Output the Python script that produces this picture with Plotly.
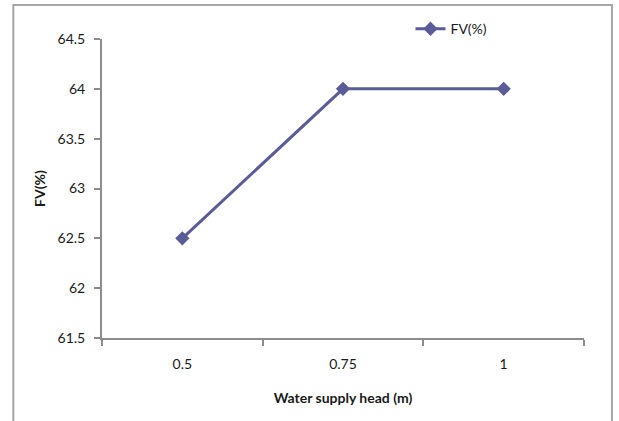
import plotly.graph_objects as go

categories = ["0.5", "0.75", "1"]
fv_values = [62.5, 64.0, 64.0]
y_ticks = [61.5, 62, 62.5, 63, 63.5, 64, 64.5]
y_tick_labels = ["61.5", "62", "62.5", "63", "63.5", "64", "64.5"]

line_color = "#5b5b98"
axis_color = "#8c8c8c"
font_family = "Lato, 'Open Sans', sans-serif"

fig = go.Figure()
fig.add_trace(go.Scatter(
    x=categories, y=fv_values, mode="lines+markers", name="FV(%)",
    line=dict(color=line_color, width=3),
    marker=dict(symbol="diamond", size=11, color=line_color),
))

fig.update_layout(
    width=619, height=421,
    margin=dict(l=102, r=35, t=39, b=83),
    paper_bgcolor="white", plot_bgcolor="white",
    font=dict(family=font_family, size=14, color="#1a1a1a"),
    showlegend=True,
    legend=dict(x=0.64, y=1.033, xanchor="left", yanchor="middle",
                bgcolor="rgba(0,0,0,0)", font=dict(size=14),
                itemwidth=30, tracegroupgap=0),
    xaxis=dict(
        type="category", range=[-0.5, 2.5], tickson="boundaries",
        showline=True, linecolor=axis_color, linewidth=2,
        ticks="outside", ticklen=6, tickcolor=axis_color, tickwidth=2,
        ticklabelstandoff=12,
        showgrid=False, zeroline=False,
        title=dict(text="<b>Water supply head (m)</b>", standoff=22,
                   font=dict(size=14)),
    ),
    yaxis=dict(
        range=[61.5, 64.5], tickvals=y_ticks, ticktext=y_tick_labels,
        showline=True, linecolor=axis_color, linewidth=2,
        ticks="outside", ticklen=6, tickcolor=axis_color, tickwidth=2,
        ticklabelstandoff=6,
        showgrid=False, zeroline=False,
        title=dict(text="<b>FV(%)</b>", standoff=9, font=dict(size=14)),
    ),
    shapes=[dict(type="rect", xref="paper", yref="paper",
                 x0=-0.184, x1=1.058, y0=-0.31, y1=1.1137,
                 line=dict(color="#a6a6a6", width=2), layer="below")],
)

fig.write_html("out.html")
